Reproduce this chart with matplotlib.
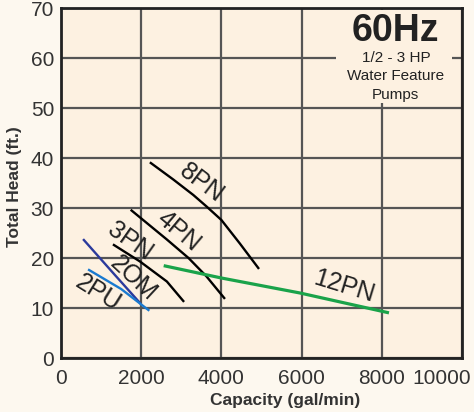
import matplotlib.pyplot as plt
from matplotlib.patches import Rectangle
from matplotlib.transforms import ScaledTranslation

plt.rcParams['font.family'] = ['Liberation Sans', 'DejaVu Sans']

# pump curves: capacity (gal/min) vs total head (ft)
pn8_q = [2240, 2800, 3300, 3630, 4000, 4460, 4920]
pn8_h = [39.0, 35.7, 32.6, 30.3, 27.6, 22.9, 18.0]
pn4_q = [1760, 2640, 3180, 3630, 4070]
pn4_h = [29.5, 23.7, 20.0, 16.3, 12.0]
pn3_q = [1320, 1970, 2640, 3050]
pn3_h = [22.6, 19.3, 15.3, 11.4]
pn12_q = [2600, 4000, 5960, 8140]
pn12_h = [18.4, 16.0, 13.0, 9.1]
om2_q = [570, 1300, 1970]
om2_h = [23.6, 17.0, 11.0]
pu2_q = [700, 1500, 2180]
pu2_h = [17.6, 13.8, 9.6]

xticks = [0, 2000, 4000, 6000, 8000, 10000]
yticks = [0, 10, 20, 30, 40, 50, 60, 70]

fig = plt.figure(figsize=(4.74, 4.12), dpi=100, facecolor='#fdf8ef')
ax = fig.add_axes([61/474, 54/412, 401/474, 350/412])
ax.set_facecolor('#fdf1e1')

ax.set_xlim(0, 10000)
ax.set_ylim(0, 70)
ax.set_xticks(xticks)
ax.set_yticks(yticks)
ax.tick_params(length=0, labelsize=15, labelcolor='#333333')
ax.tick_params(axis='x', pad=8)
ax.tick_params(axis='y', pad=5)
ax.grid(True, color='#555555', linewidth=1.6)
ax.set_axisbelow(True)
for s in ax.spines.values():
    s.set_color('#222222')
    s.set_linewidth(2)

# last x label sits a bit left so it stays inside the picture
last = ax.get_xticklabels()[-1]
last.set_transform(last.get_transform() + ScaledTranslation(-0.2, 0, fig.dpi_scale_trans))

# box behind the title text
ax.add_patch(Rectangle((6850, 51), 2900, 18.6, facecolor='#fdf1e1', edgecolor='none', zorder=1.5))

ax.plot(pn8_q, pn8_h, color='black', lw=1.7, zorder=3)
ax.plot(pn4_q, pn4_h, color='black', lw=1.7, zorder=3)
ax.plot(pn3_q, pn3_h, color='black', lw=1.7, zorder=3)
ax.plot(pn12_q, pn12_h, color='#1aa34a', lw=2.3, zorder=3)
ax.plot(om2_q, om2_h, color='#2b3a9c', lw=1.7, zorder=3)
ax.plot(pu2_q, pu2_h, color='#1a7ad0', lw=1.7, zorder=3)

lab = dict(fontsize=18, color='#222222', ha='center', va='center', zorder=4)
ax.text(3500, 34.9, '8PN', rotation=-37, **lab)
ax.text(2930, 25.4, '4PN', rotation=-40, **lab)
ax.text(1720, 23.4, '3PN', rotation=-35, **lab)
ax.text(1800, 16.0, '2OM', rotation=-43, **lab)
ax.text(930, 13.0, '2PU', rotation=-32, **lab)
ax.text(7050, 14.3, '12PN', rotation=-17, **lab)

ax.text(8350, 65.4, '60Hz', fontsize=27, fontweight='bold', color='#222222', ha='center', va='center', zorder=4)
ax.text(8350, 59.9, '1/2 - 3 HP', fontsize=11, color='#222222', ha='center', va='center', zorder=4)
ax.text(8350, 56.3, 'Water Feature', fontsize=11, color='#222222', ha='center', va='center', zorder=4)
ax.text(8350, 52.6, 'Pumps', fontsize=11, color='#222222', ha='center', va='center', zorder=4)

ax.set_xlabel('Capacity (gal/min)', fontsize=12.5, fontweight='bold', color='#333333')
ax.set_ylabel('Total Head (ft.)', fontsize=12.5, fontweight='bold', color='#333333')
ax.xaxis.set_label_coords(0.56, -0.1)
ax.yaxis.set_label_coords(-0.097, 0.49)

fig.savefig('out.png', dpi=100, facecolor=fig.get_facecolor())
